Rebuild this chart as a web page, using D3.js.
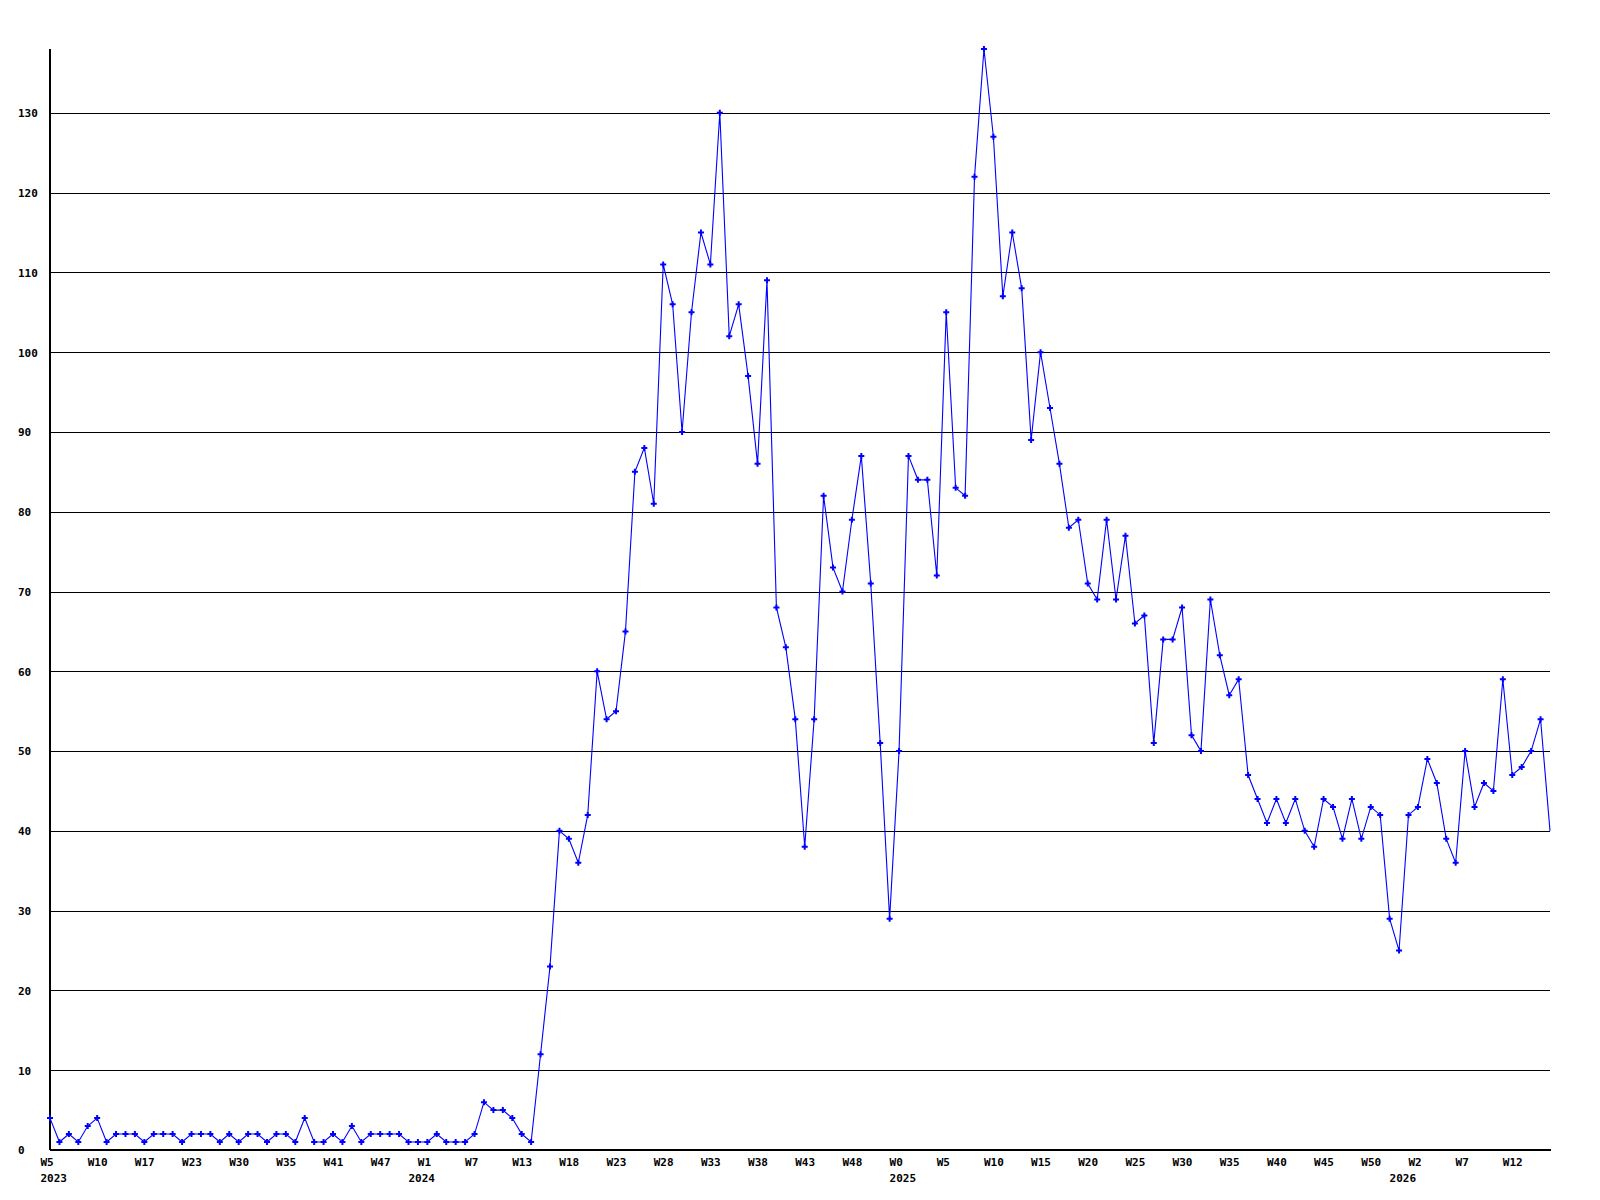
<!DOCTYPE html>
<html>
<head>
<meta charset="utf-8">
<title>Weekly count</title>
<script src="https://d3js.org/d3.v7.min.js"></script>
<style>
  body { margin: 0; background: #fff; }
  text { font-family: "DejaVu Sans Mono", monospace; font-weight: bold; font-size: 11px; fill: #000; }
</style>
</head>
<body>
<div id="chart"></div>
<script>
// weekly values, first point is W5 2023
const values = [
  4, 1, 2, 1, 3, 4, 1, 2, 2, 2,
  1, 2, 2, 2, 1, 2, 2, 2, 1, 2,
  1, 2, 2, 1, 2, 2, 1, 4, 1, 1,
  2, 1, 3, 1, 2, 2, 2, 2, 1, 1,
  1, 2, 1, 1, 1, 2, 6, 5, 5, 4,
  2, 1, 12, 23, 40, 39, 36, 42, 60, 54,
  55, 65, 85, 88, 81, 111, 106, 90, 105, 115,
  111, 130, 102, 106, 97, 86, 109, 68, 63, 54,
  38, 54, 82, 73, 70, 79, 87, 71, 51, 29,
  50, 87, 84, 84, 72, 105, 83, 82, 122, 138,
  127, 107, 115, 108, 89, 100, 93, 86, 78, 79,
  71, 69, 79, 69, 77, 66, 67, 51, 64, 64,
  68, 52, 50, 69, 62, 57, 59, 47, 44, 41,
  44, 41, 44, 40, 38, 44, 43, 39, 44, 39,
  43, 42, 29, 25, 42, 43, 49, 46, 39, 36,
  50, 43, 46, 45, 59, 47, 48, 50, 54, 40
];

// x labels: week labels every 5 points, year labels at first point of each year
const weekTickIdx = [0, 5, 10, 15, 20, 25, 30, 35, 40, 45, 50, 55, 60, 65, 70, 75, 80, 85,
                     90, 95, 100, 105, 110, 115, 120, 125, 130, 135, 140, 145, 150, 155];
const weekLabels = ["W5", "W10", "W17", "W23", "W30", "W35", "W41", "W47", "W1", "W7", "W13",
                    "W18", "W23", "W28", "W33", "W38", "W43", "W48", "W0", "W5", "W10", "W15",
                    "W20", "W25", "W30", "W35", "W40", "W45", "W50", "W2", "W7", "W12"];
const yearTickIdx = [0, 39, 90, 143];
const yearLabels = ["2023", "2024", "2025", "2026"];

const yTicks = [0, 10, 20, 30, 40, 50, 60, 70, 80, 90, 100, 110, 120, 130];

const width = 1600, height = 1200;
const plotLeft = 50, plotRight = 1550, plotTop = 49, plotBottom = 1150;

const x = d3.scaleLinear().domain([0, values.length - 1]).range([plotLeft, plotRight]);
const y = d3.scaleLinear().domain([0, d3.max(values)]).range([plotBottom, plotTop]);

const svg = d3.select("#chart").append("svg")
    .attr("width", width)
    .attr("height", height);

// horizontal grid lines + y labels
const yAxis = svg.append("g")
    .attr("transform", `translate(${plotLeft},0)`)
    .call(d3.axisLeft(y).tickValues(yTicks).tickSize(-(plotRight - plotLeft)).tickFormat(d3.format("d")));
yAxis.select(".domain").remove();
yAxis.selectAll(".tick line")
    .attr("stroke", "#000")
    .attr("shape-rendering", "crispEdges");
yAxis.selectAll(".tick text")
    .attr("x", 18 - plotLeft)
    .attr("text-anchor", "start")
    .attr("dy", "0.35em");

// axis lines
svg.append("line")
    .attr("x1", plotLeft).attr("x2", plotLeft)
    .attr("y1", plotTop).attr("y2", plotBottom)
    .attr("stroke", "#000").attr("stroke-width", 1.5)
    .attr("shape-rendering", "crispEdges");
svg.append("line")
    .attr("x1", plotLeft).attr("x2", plotRight + 1)
    .attr("y1", plotBottom).attr("y2", plotBottom)
    .attr("stroke", "#000").attr("stroke-width", 1.5)
    .attr("shape-rendering", "crispEdges");

// week labels
const xAxis = svg.append("g")
    .attr("transform", `translate(0,${plotBottom})`)
    .call(d3.axisBottom(x).tickValues(weekTickIdx).tickSize(0)
        .tickFormat((d, i) => weekLabels[i]));
xAxis.select(".domain").remove();
xAxis.selectAll(".tick text")
    .attr("text-anchor", "start")
    .attr("x", -10)
    .attr("y", 16)
    .attr("dy", null);

// year labels
const yearAxis = svg.append("g")
    .attr("transform", `translate(0,${plotBottom})`)
    .call(d3.axisBottom(x).tickValues(yearTickIdx).tickSize(0)
        .tickFormat((d, i) => yearLabels[i]));
yearAxis.select(".domain").remove();
yearAxis.selectAll(".tick text")
    .attr("text-anchor", "start")
    .attr("x", -10)
    .attr("y", 32)
    .attr("dy", null);

// the line
const line = d3.line()
    .x((d, i) => x(i))
    .y(d => y(d));

svg.append("path")
    .datum(values)
    .attr("fill", "none")
    .attr("stroke", "#0000ff")
    .attr("stroke-width", 1.1)
    .attr("d", line);

// markers (none on the last, still-open week)
svg.append("g")
    .selectAll("path")
    .data(values.slice(0, -1))
    .join("path")
        .attr("transform", (d, i) => `translate(${x(i)},${y(d)})`)
        .attr("d", d3.symbol(d3.symbolCross, 20))
        .attr("fill", "#0000ff");
</script>
</body>
</html>
